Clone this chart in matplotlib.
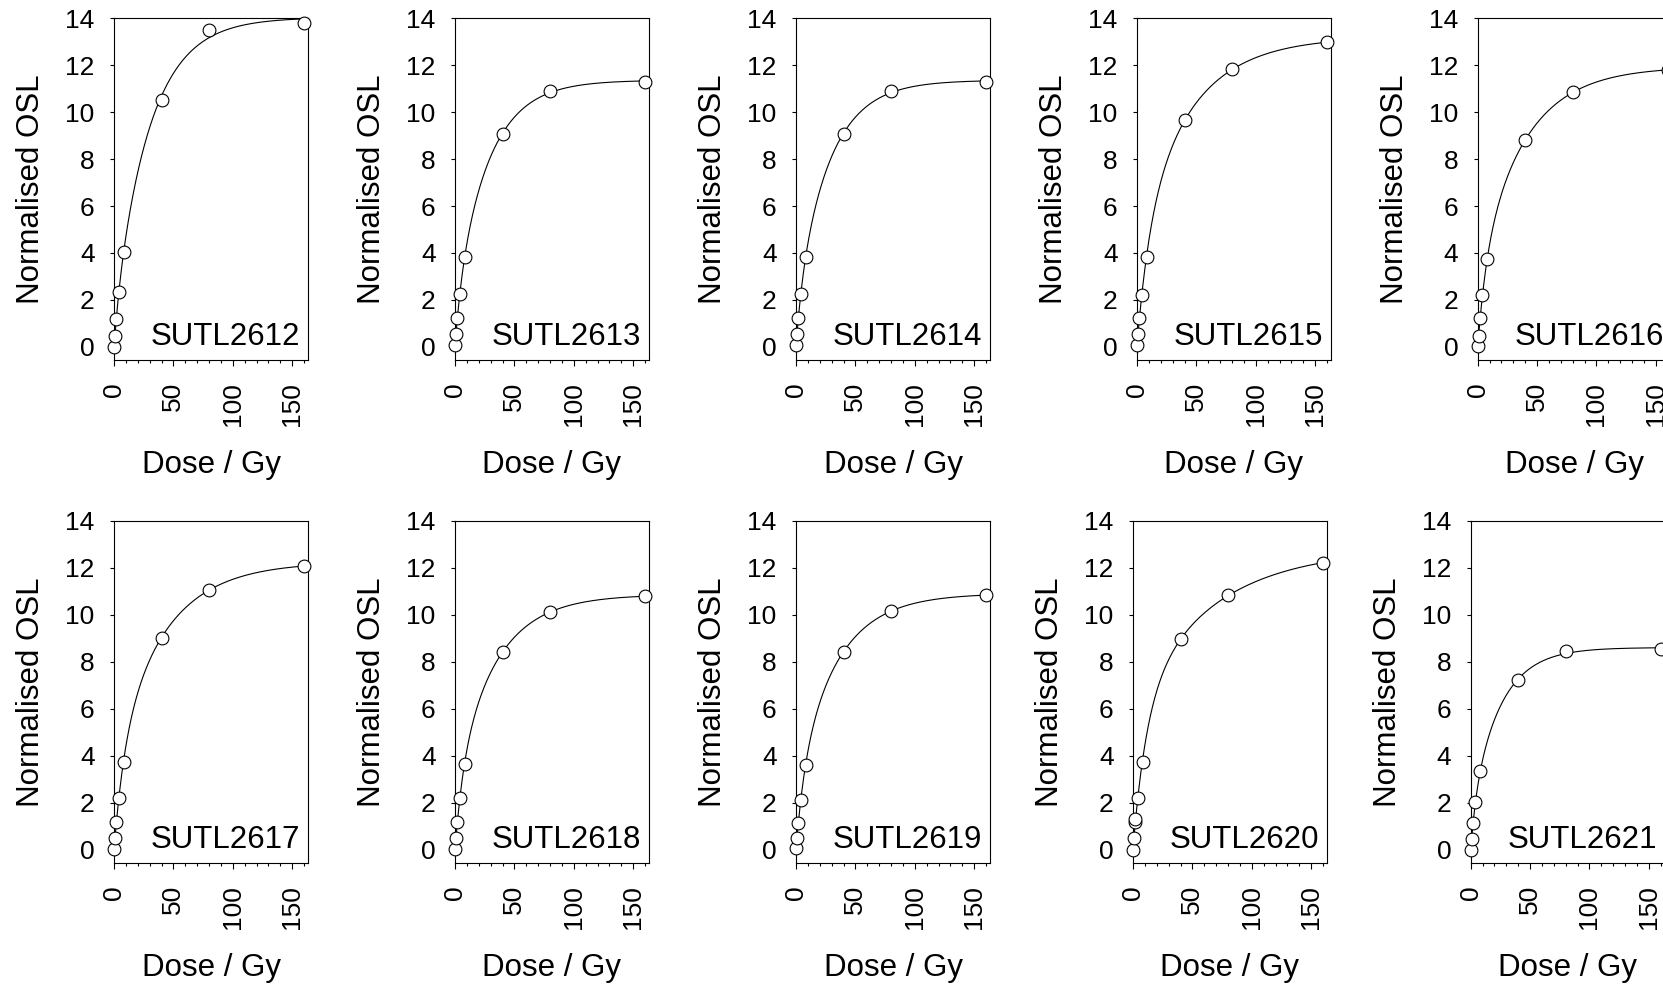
import numpy as np
import matplotlib
matplotlib.use("Agg")
import matplotlib.pyplot as plt
from matplotlib.ticker import MultipleLocator

plt.rcParams['font.family'] = ['Liberation Sans', 'DejaVu Sans']

# regenerative doses (Gy)
doses = [0, 1, 2, 4, 8, 40, 80, 160]
doses_2620 = [0, 1, 2, 2, 4, 8, 40, 80, 160]

# normalised OSL
osl_2612 = [0.01, 0.48, 1.19, 2.35, 4.05, 10.5, 13.5, 13.8]
osl_2613 = [0.08, 0.55, 1.22, 2.24, 3.82, 9.05, 10.9, 11.3]
osl_2614 = [0.08, 0.55, 1.22, 2.24, 3.82, 9.05, 10.9, 11.3]
osl_2615 = [0.08, 0.55, 1.22, 2.21, 3.83, 9.65, 11.82, 12.97]
osl_2616 = [0.05, 0.48, 1.22, 2.21, 3.74, 8.81, 10.86, 11.79]
osl_2617 = [0.03, 0.49, 1.20, 2.20, 3.75, 9.03, 11.05, 12.07]
osl_2618 = [0.03, 0.49, 1.20, 2.19, 3.65, 8.41, 10.11, 10.79]
osl_2619 = [0.07, 0.52, 1.16, 2.13, 3.60, 8.41, 10.18, 10.82]
osl_2620 = [0.0, 0.52, 1.19, 1.33, 2.19, 3.75, 8.96, 10.82, 12.21]
osl_2621 = [0.0, 0.47, 1.15, 2.03, 3.35, 7.21, 8.46, 8.53]

samples = [("SUTL2612", doses, osl_2612), ("SUTL2613", doses, osl_2613),
           ("SUTL2614", doses, osl_2614), ("SUTL2615", doses, osl_2615),
           ("SUTL2616", doses, osl_2616), ("SUTL2617", doses, osl_2617),
           ("SUTL2618", doses, osl_2618), ("SUTL2619", doses, osl_2619),
           ("SUTL2620", doses_2620, osl_2620), ("SUTL2621", doses, osl_2621)]


def fit_growth(x, y):
    # sum of two saturating exponentials, D1/D2 on a grid, amplitudes by lstsq
    x = np.asarray(x, float)
    y = np.asarray(y, float)
    grid = np.geomspace(4, 1500, 90)
    best = None
    for i, D1 in enumerate(grid):
        for D2 in grid[i:]:
            A = np.column_stack([1 - np.exp(-x / D1), 1 - np.exp(-x / D2),
                                 np.ones_like(x)])
            coef = np.linalg.lstsq(A, y, rcond=None)[0]
            if coef[0] < 0 or coef[1] < 0:
                continue
            sse = np.sum((A @ coef - y) ** 2)
            if best is None or sse < best[0]:
                best = (sse, D1, D2, coef)
    _, D1, D2, (a1, a2, c) = best
    return lambda t: a1 * (1 - np.exp(-t / D1)) + a2 * (1 - np.exp(-t / D2)) + c


W, H = 1663, 985
fig = plt.figure(figsize=(W / 100, H / 100), dpi=100)

lefts = [[114, 455, 796, 1137, 1477.7], [114, 455, 796, 1133, 1470.7]]
tops = [18.3, 520.7]
bottoms = [360, 863]
width = 194

for i, (name, x, y) in enumerate(samples):
    row, col = divmod(i, 5)
    l = lefts[row][col]
    ax = fig.add_axes([l / W, 1 - bottoms[row] / H, width / W,
                       (bottoms[row] - tops[row]) / H])
    f = fit_growth(x, y)
    xs = np.linspace(0, 160, 400)
    ax.plot(xs, f(xs), color='black', lw=0.8, zorder=2)
    ax.plot(x, y, 'o', ms=9.2, mfc='white', mec='black', mew=0.8,
            clip_on=False, zorder=3)
    ax.set_xlim(0, 163.3)
    ax.set_ylim(-0.56, 14)
    ax.xaxis.set_major_locator(MultipleLocator(50))
    ax.xaxis.set_minor_locator(MultipleLocator(10))
    ax.yaxis.set_major_locator(MultipleLocator(2))
    ax.tick_params(axis='x', which='major', length=4, width=0.8, pad=12,
                   labelsize=19, labelrotation=90)
    ax.tick_params(axis='x', which='minor', length=2.5, width=0.8)
    ax.tick_params(axis='y', which='major', length=3, width=0.8, pad=11,
                   labelsize=19)
    for s in ax.spines.values():
        s.set_linewidth(0.8)
    ax.set_xlabel("Dose / Gy", fontsize=22.5)
    ax.set_ylabel("Normalised OSL", fontsize=22.5)
    ax.xaxis.set_label_coords(0.5, -0.262)
    ax.yaxis.set_label_coords(-0.35, 0.5)
    ax.text(0.961, 0.044, name, transform=ax.transAxes, ha='right',
            va='baseline', fontsize=22.5)

fig.savefig("out.png", dpi=100)
